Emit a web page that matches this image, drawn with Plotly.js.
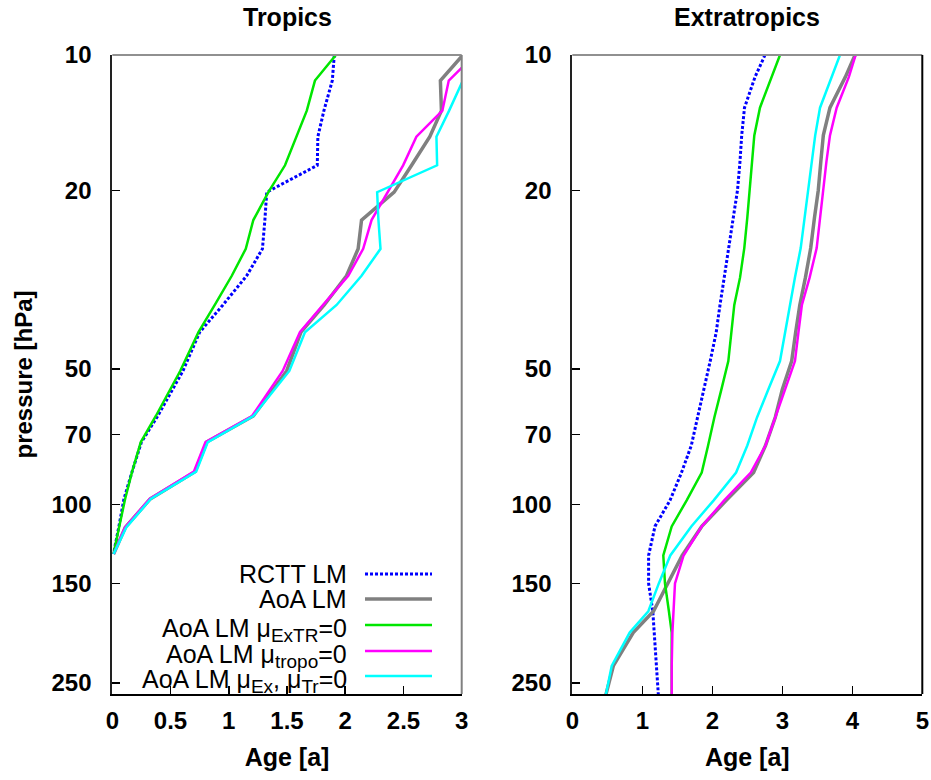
<!DOCTYPE html>
<html>
<head>
<meta charset="utf-8">
<script src="https://cdn.plot.ly/plotly-3.0.1.min.js"></script>
<style>html,body{margin:0;padding:0;background:#fff;}#chart{width:931px;height:780px;}</style>
</head>
<body>
<div id="chart"></div>
<script>
// ---------- data ----------
const pressureTropics = [10, 11.4, 13.3, 15.2, 17.6, 20.2, 23.3, 27, 31, 36, 41.4, 50.5, 63.6, 72.7, 84.6, 97.3, 112.6, 129];
const tropRCTT   = [1.906, 1.889, 1.817, 1.765, 1.76, 1.326, 1.31, 1.289, 1.154, 0.95, 0.75, 0.606, 0.39, 0.25, 0.17, 0.10, 0.055, 0.01];
const tropAoA    = [3.01, 2.817, 2.826, 2.726, 2.57, 2.42, 2.14, 2.111, 2.011, 1.82, 1.62, 1.497, 1.211, 0.811, 0.711, 0.326, 0.111, 0.011];
const tropExTR   = [1.92, 1.74, 1.67, 1.58, 1.483, 1.34, 1.211, 1.146, 1.026, 0.88, 0.74, 0.583, 0.374, 0.245, 0.17, 0.11, 0.06, 0.01];
const tropTropo  = [3.11, 2.889, 2.834, 2.611, 2.497, 2.365, 2.226, 2.154, 2.026, 1.81, 1.611, 1.463, 1.2, 0.8, 0.7, 0.32, 0.11, 0.011];
const tropExTr   = [3.125, 3.01, 2.892, 2.783, 2.789, 2.274, 2.285, 2.303, 2.14, 1.926, 1.654, 1.52, 1.211, 0.82, 0.72, 0.33, 0.12, 0.011];

const pressureExtra = [10, 11.2, 13.1, 15.1, 17.3, 20, 23, 26.9, 31.3, 36, 41.5, 48, 55.5, 64, 74, 85, 98, 112, 130, 150, 173, 193, 229, 265];
const exRCTT  = [2.753, 2.61, 2.46, 2.42, 2.395, 2.36, 2.30, 2.229, 2.17, 2.11, 2.055, 1.97, 1.875, 1.79, 1.70, 1.56, 1.396, 1.181, 1.09, 1.09, 1.15, 1.17, 1.206, 1.229];
const exAoA   = [4.039, 3.90, 3.681, 3.586, 3.55, 3.514, 3.46, 3.406, 3.33, 3.25, 3.19, 3.134, 3.00, 2.90, 2.76, 2.59, 2.20, 1.849, 1.57, 1.37, 1.16, 0.871, 0.586, 0.481];
const exExTR  = [2.967, 2.85, 2.681, 2.6, 2.57, 2.539, 2.50, 2.457, 2.396, 2.314, 2.27, 2.229, 2.13, 2.03, 1.94, 1.849, 1.634, 1.42, 1.30, 1.324, 1.38, 1.42, 1.42, 1.42];
const exTropo = [4.048, 3.95, 3.777, 3.681, 3.63, 3.586, 3.54, 3.491, 3.39, 3.28, 3.23, 3.181, 3.04, 2.90, 2.76, 2.55, 2.17, 1.849, 1.59, 1.467, 1.44, 1.43, 1.42, 1.42];
const exExTr  = [3.824, 3.70, 3.539, 3.47, 3.42, 3.371, 3.32, 3.263, 3.18, 3.11, 3.04, 2.967, 2.80, 2.64, 2.50, 2.34, 2.02, 1.70, 1.40, 1.236, 1.086, 0.82, 0.563, 0.48];

const SUB = s => '<sub><span style="font-size:19px">' + s + '</span></sub>';
const seriesNames = ['RCTT LM', 'AoA LM', 'AoA LM \u03bc' + SUB('ExTR') + '=0', 'AoA LM \u03bc' + SUB('tropo') + '=0',
                     'AoA LM \u03bc' + SUB('Ex') + ', \u03bc' + SUB('Tr') + '=0'];
const yTickVals = [10, 20, 50, 70, 100, 150, 250];
const yTickText = ['10', '20', '50', '70', '100', '150', '250'];
const xTickValsTrop = [0, 0.5, 1, 1.5, 2, 2.5, 3];
const xTickTextTrop = ['0', '0.5', '1', '1.5', '2', '2.5', '3'];
const xTickValsEx = [0, 1, 2, 3, 4, 5];
const xTickTextEx = ['0', '1', '2', '3', '4', '5'];

// ---------- styles ----------
const styles = [
  {color: '#0000ff', width: 3, dash: '3px,2px'},
  {color: '#808080', width: 3.5, dash: 'solid'},
  {color: '#00e600', width: 2.5, dash: 'solid'},
  {color: '#ff00ff', width: 2.5, dash: 'solid'},
  {color: '#00ffff', width: 2.5, dash: 'solid'}
];
const tropSeries = [tropRCTT, tropAoA, tropExTR, tropTropo, tropExTr];
const exSeries = [exRCTT, exAoA, exExTR, exTropo, exExTr];

const traces = [];
tropSeries.forEach((s, i) => traces.push({
  x: s, y: pressureTropics, xaxis: 'x', yaxis: 'y', type: 'scatter', mode: 'lines',
  line: styles[i], name: seriesNames[i], showlegend: false, hoverinfo: 'skip'
}));
exSeries.forEach((s, i) => traces.push({
  x: s, y: pressureExtra, xaxis: 'x2', yaxis: 'y2', type: 'scatter', mode: 'lines',
  line: styles[i], name: seriesNames[i], showlegend: false, hoverinfo: 'skip'
}));

const FONT = 'Liberation Sans, Arial, Helvetica, sans-serif';
const W = 931, H = 780, T = 55, B = 86;
const py = p => (H - B - p) / (H - T - B);
const px = p => p / W;

const yBottom = Math.log10(264.4);
function xAxis(domain, range, vals, text, anchor) {
  return {
    domain: domain, range: range, anchor: anchor,
    tickvals: vals, ticktext: text,
    ticks: 'inside', ticklen: 8, tickwidth: 1.5, tickcolor: '#000',
    showline: true, linecolor: '#000', linewidth: 2,
    showgrid: false, zeroline: false,
    tickfont: {family: FONT, size: 24, weight: 'bold', color: '#000'},
    ticklabelstandoff: 4,
    title: {text: 'Age [a]', font: {family: FONT, size: 25, weight: 'bold', color: '#000'}, standoff: 16}
  };
}
function yAxis(anchor, withTitle) {
  const a = {
    type: 'log', range: [yBottom, 1], anchor: anchor,
    tickvals: yTickVals, ticktext: yTickText,
    ticks: 'inside', ticklen: 8, tickwidth: 1.5, tickcolor: '#000',
    showline: true, linecolor: '#222', linewidth: 2,
    showgrid: false, zeroline: false,
    tickfont: {family: FONT, size: 24, weight: 'bold', color: '#000'},
    ticklabelstandoff: 14
  };
  if (withTitle) a.title = {text: 'pressure [hPa]', font: {family: FONT, size: 24, weight: 'bold', color: '#000'}, standoff: 12};
  return a;
}

const shapes = [
  // frames
  {type: 'line', xref: 'x domain', yref: 'y domain', x0: 0, x1: 1, y0: 1, y1: 1, line: {color: '#909090', width: 2}},
  {type: 'line', xref: 'x domain', yref: 'y domain', x0: 1, x1: 1, y0: 0, y1: 1, line: {color: '#808080', width: 2}},
  {type: 'line', xref: 'x2 domain', yref: 'y2 domain', x0: 0, x1: 1, y0: 1, y1: 1, line: {color: '#909090', width: 2}},
  {type: 'line', xref: 'x2 domain', yref: 'y2 domain', x0: 1, x1: 1, y0: 0, y1: 1, line: {color: '#000', width: 2}}
];
const annotations = [
  {text: 'Tropics', xref: 'paper', yref: 'paper', x: px(287), y: py(17), xanchor: 'center', yanchor: 'middle', showarrow: false,
   font: {family: FONT, size: 25, weight: 'bold', color: '#000'}},
  {text: 'Extratropics', xref: 'paper', yref: 'paper', x: px(747), y: py(17), xanchor: 'center', yanchor: 'middle', showarrow: false,
   font: {family: FONT, size: 25, weight: 'bold', color: '#000'}}
];
// legend (text right, sample on the right, as in the original)
const legendRows = [574, 599, 625, 651, 676];
seriesNames.forEach((n, i) => {
  annotations.push({text: n, xref: 'paper', yref: 'paper', x: px(349), y: py(legendRows[i]), xanchor: 'right', yanchor: 'middle',
    yshift: i >= 2 ? -5 : 0, showarrow: false, font: {family: FONT, size: 25, color: '#000'}});
  shapes.push({type: 'line', xref: 'paper', yref: 'paper', x0: px(365), x1: px(432), y0: py(legendRows[i]), y1: py(legendRows[i]),
    line: styles[i]});
});

const layout = {
  width: W, height: H,
  margin: {l: 0, r: 0, t: T, b: B},
  paper_bgcolor: '#fff', plot_bgcolor: '#fff',
  showlegend: false,
  font: {family: FONT, color: '#000'},
  xaxis: xAxis([112.3 / W, 461.7 / W], [0, 3], xTickValsTrop, xTickTextTrop, 'y'),
  yaxis: yAxis('x', true),
  xaxis2: xAxis([572.3 / W, 922.3 / W], [0, 5], xTickValsEx, xTickTextEx, 'y2'),
  yaxis2: yAxis('x2', false),
  shapes: shapes,
  annotations: annotations
};
Plotly.newPlot('chart', traces, layout, {staticPlot: true, displayModeBar: false});
</script>
</body>
</html>
